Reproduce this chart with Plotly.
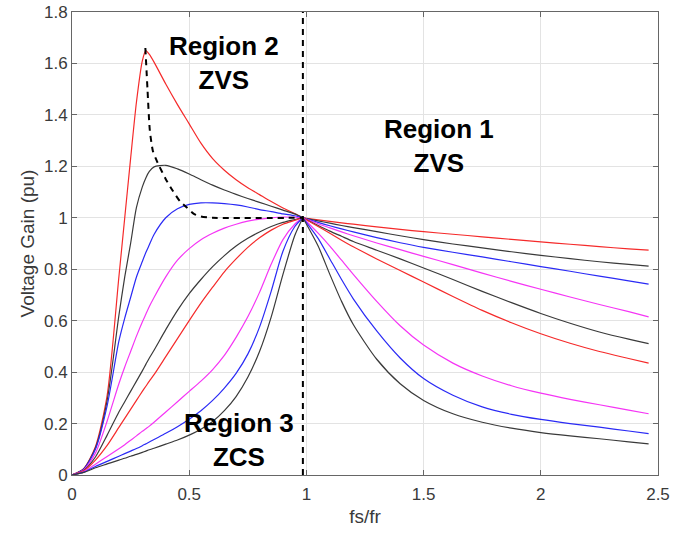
import plotly.graph_objects as go

# ---- data ----
x_left = [0, 0.05, 0.1, 0.15, 0.2, 0.225, 0.25, 0.275, 0.3, 0.315, 0.33, 0.35, 0.4,
          0.45, 0.5, 0.55, 0.6, 0.65, 0.7, 0.75, 0.8, 0.85, 0.9, 0.95, 0.985]
x_right = [0.985, 1.05, 1.1, 1.15, 1.2, 1.3, 1.4, 1.5, 1.625, 1.75, 1.875, 2.0,
           2.125, 2.25, 2.375, 2.46]

c1_left = [0, 0.025, 0.11, 0.31, 0.77, 1.0, 1.23, 1.45, 1.61, 1.65, 1.635, 1.605, 1.52,
           1.44, 1.365, 1.29, 1.23, 1.185, 1.148, 1.117, 1.09, 1.063, 1.038, 1.016, 1.0]
c2_left = [0, 0.024, 0.105, 0.29, 0.62, 0.77, 0.9, 1.04, 1.12, 1.155, 1.18, 1.198, 1.204,
           1.19, 1.17, 1.148, 1.127, 1.108, 1.091, 1.075, 1.06, 1.045, 1.03, 1.015, 1.0]
c3_left = [0, 0.023, 0.1, 0.27, 0.52, 0.61, 0.69, 0.77, 0.83, 0.865, 0.895, 0.935, 1.0,
           1.035, 1.052, 1.058, 1.058, 1.055, 1.05, 1.042, 1.032, 1.024, 1.015, 1.008, 1.0]
c4_left = [0, 0.02, 0.085, 0.21, 0.355, 0.42, 0.48, 0.54, 0.595, 0.625, 0.655, 0.69, 0.77,
           0.835, 0.88, 0.915, 0.94, 0.96, 0.975, 0.987, 0.995, 1.0, 1.003, 1.002, 1.0]
c5_left = [0, 0.018, 0.07, 0.155, 0.245, 0.285, 0.325, 0.365, 0.405, 0.43, 0.455, 0.485, 0.565,
           0.64, 0.705, 0.76, 0.81, 0.853, 0.89, 0.92, 0.945, 0.966, 0.982, 0.993, 1.0]
c6_left = [0, 0.016, 0.058, 0.115, 0.185, 0.22, 0.255, 0.29, 0.325, 0.345, 0.365, 0.39, 0.46,
           0.53, 0.6, 0.668, 0.73, 0.79, 0.84, 0.885, 0.922, 0.952, 0.975, 0.99, 1.0]
c7_left = [0, 0.013, 0.042, 0.072, 0.102, 0.118, 0.135, 0.152, 0.17, 0.18, 0.19, 0.205, 0.245,
           0.285, 0.325, 0.365, 0.41, 0.465, 0.535, 0.615, 0.71, 0.82, 0.915, 0.975, 1.0]
c8_left = [0, 0.011, 0.033, 0.053, 0.073, 0.083, 0.093, 0.103, 0.114, 0.121, 0.128, 0.138, 0.162,
           0.188, 0.217, 0.25, 0.29, 0.338, 0.395, 0.47, 0.575, 0.715, 0.87, 0.965, 1.0]
c9_left = [0, 0.01, 0.028, 0.043, 0.058, 0.065, 0.073, 0.08, 0.088, 0.093, 0.098, 0.104, 0.12,
           0.136, 0.155, 0.178, 0.208, 0.25, 0.305, 0.38, 0.48, 0.615, 0.78, 0.93, 1.0]

c1_right = [1.0, 0.992, 0.986, 0.98, 0.975, 0.965, 0.955, 0.946, 0.936, 0.926, 0.916, 0.906,
            0.897, 0.888, 0.879, 0.874]
c2_right = [1.0, 0.988, 0.979, 0.97, 0.962, 0.946, 0.93, 0.915, 0.898, 0.883, 0.868, 0.854,
            0.841, 0.829, 0.819, 0.812]
c3_right = [1.0, 0.982, 0.969, 0.957, 0.945, 0.923, 0.903, 0.885, 0.866, 0.848, 0.829, 0.81,
            0.792, 0.773, 0.755, 0.742]
c4_right = [1.0, 0.977, 0.961, 0.945, 0.93, 0.902, 0.876, 0.85, 0.818, 0.785, 0.753, 0.722,
            0.692, 0.663, 0.635, 0.615]
c5_right = [1.0, 0.97, 0.948, 0.928, 0.908, 0.874, 0.84, 0.805, 0.76, 0.714, 0.67, 0.628,
            0.59, 0.556, 0.528, 0.511]
c6_right = [1.0, 0.966, 0.94, 0.913, 0.887, 0.84, 0.795, 0.75, 0.694, 0.64, 0.592, 0.549,
            0.512, 0.48, 0.453, 0.435]
c7_right = [1.0, 0.94, 0.89, 0.835, 0.78, 0.675, 0.58, 0.505, 0.435, 0.385, 0.347, 0.318,
            0.294, 0.273, 0.252, 0.238]
c8_right = [1.0, 0.92, 0.84, 0.76, 0.685, 0.56, 0.455, 0.375, 0.31, 0.265, 0.236, 0.216,
            0.2, 0.186, 0.171, 0.161]
c9_right = [1.0, 0.89, 0.78, 0.675, 0.585, 0.45, 0.355, 0.29, 0.238, 0.205, 0.182, 0.165,
            0.152, 0.141, 0.129, 0.121]

curve_colors = ["#f52a2a", "#3a3a3a", "#2a2af5", "#f535f5", "#3a3a3a",
                "#f52a2a", "#f535f5", "#2a2af5", "#3a3a3a"]

locus_x = [0.313, 0.322, 0.332, 0.345, 0.36, 0.37, 0.40, 0.43, 0.46, 0.49, 0.52, 0.55, 0.6, 0.985]
locus_y = [1.66, 1.5, 1.34, 1.26, 1.225, 1.205, 1.15, 1.105, 1.065, 1.04, 1.015, 1.005, 1.0, 1.0]

boundary_x = [0.985, 0.985]
boundary_y = [0.0, 1.8]

region_labels = ["<b>Region 2<br>ZVS</b>", "<b>Region 1<br>ZVS</b>", "<b>Region 3<br>ZCS</b>"]
region_x = [0.648, 1.566, 0.711]
region_y = [1.6, 1.28, 0.135]

x_ticks = [0, 0.5, 1, 1.5, 2, 2.5]
x_tick_text = ["0", "0.5", "1", "1.5", "2", "2.5"]
y_ticks = [0, 0.2, 0.4, 0.6, 0.8, 1, 1.2, 1.4, 1.6, 1.8]
y_tick_text = ["0", "0.2", "0.4", "0.6", "0.8", "1", "1.2", "1.4", "1.6", "1.8"]

lefts = [c1_left, c2_left, c3_left, c4_left, c5_left, c6_left, c7_left, c8_left, c9_left]
rights = [c1_right, c2_right, c3_right, c4_right, c5_right, c6_right, c7_right, c8_right, c9_right]

FONT = "Liberation Sans, Arial, Helvetica, sans-serif"

fig = go.Figure()
for yl, yr, col in zip(lefts, rights, curve_colors):
    fig.add_trace(go.Scatter(x=x_left, y=yl, mode="lines",
                             line=dict(color=col, width=1.2, shape="spline", smoothing=0.7),
                             showlegend=False, hoverinfo="skip"))
    fig.add_trace(go.Scatter(x=x_right, y=yr, mode="lines",
                             line=dict(color=col, width=1.2, shape="spline", smoothing=0.7),
                             showlegend=False, hoverinfo="skip"))

fig.add_trace(go.Scatter(x=locus_x, y=locus_y, mode="lines",
                         line=dict(color="black", width=2, dash="6px,5px", shape="spline", smoothing=0.6),
                         showlegend=False, hoverinfo="skip"))
fig.add_trace(go.Scatter(x=boundary_x, y=boundary_y, mode="lines",
                         line=dict(color="black", width=2, dash="6px,5px"),
                         showlegend=False, hoverinfo="skip"))

for txt, tx, ty in zip(region_labels, region_x, region_y):
    fig.add_annotation(x=tx, y=ty, text=txt, showarrow=False,
                       font=dict(family=FONT, size=26, color="black"),
                       xanchor="center", yanchor="middle")

axis_common = dict(showgrid=True, gridcolor="#e3e3e3", gridwidth=1, zeroline=False,
                   showline=True, linecolor="#666666", linewidth=1, mirror="allticks",
                   ticks="inside", ticklen=5, tickcolor="#666666", automargin=False,
                   tickfont=dict(family=FONT, size=17, color="#3a3a3a"))

fig.update_xaxes(range=[0, 2.5], tickvals=x_ticks, ticktext=x_tick_text,
                 title=dict(text="fs/fr", font=dict(family=FONT, size=19, color="#3a3a3a"),
                            standoff=6),
                 ticklabelstandoff=4,
                 **axis_common)
fig.update_yaxes(range=[0, 1.8], tickvals=y_ticks, ticktext=y_tick_text,
                 title=dict(text="Voltage Gain (pu)", font=dict(family=FONT, size=19, color="#3a3a3a"),
                            standoff=4),
                 **axis_common)

fig.update_layout(width=673, height=535, plot_bgcolor="white", paper_bgcolor="white",
                  margin=dict(l=72, r=15, t=12, b=60), showlegend=False)

fig.write_html("out.html")
